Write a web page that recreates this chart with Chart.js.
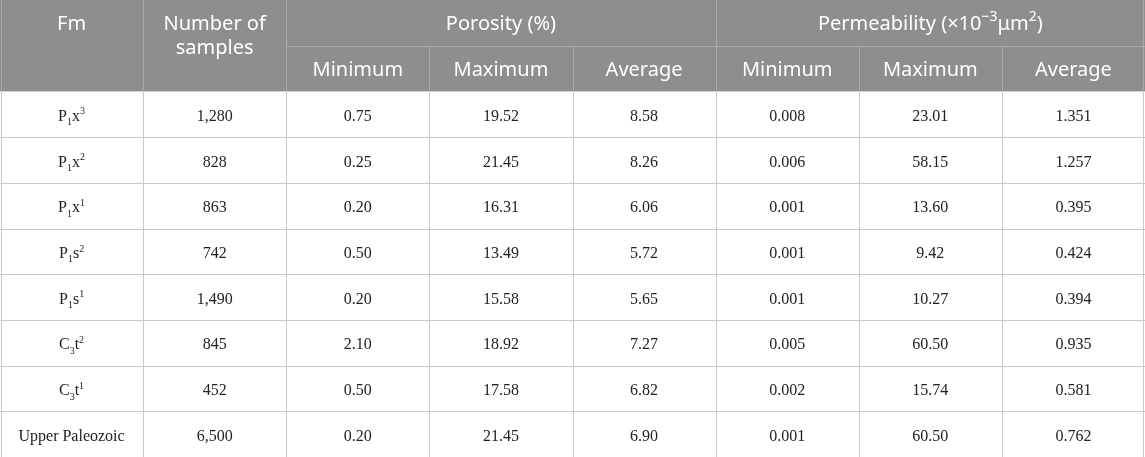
<!DOCTYPE html>
<html>
<head>
<meta charset="utf-8">
<script src="https://cdn.jsdelivr.net/npm/chart.js@4/dist/chart.umd.min.js"></script>
<style>
  html, body { margin: 0; padding: 0; background: #ffffff; }
  #wrap { width: 1145px; height: 457px; position: relative; }
</style>
</head>
<body>
<div id="wrap"><canvas id="c"></canvas></div>
<script>
const formations = ['P_1x^3', 'P_1x^2', 'P_1x^1', 'P_1s^2', 'P_1s^1', 'C_3t^2', 'C_3t^1', 'Upper Paleozoic'];
const sampleCounts = [1280, 828, 863, 742, 1490, 845, 452, 6500];
const porosityMin = [0.75, 0.25, 0.20, 0.50, 0.20, 2.10, 0.50, 0.20];
const porosityMax = [19.52, 21.45, 16.31, 13.49, 15.58, 18.92, 17.58, 21.45];
const porosityAvg = [8.58, 8.26, 6.06, 5.72, 5.65, 7.27, 6.82, 6.90];
const permeabilityMin = [0.008, 0.006, 0.001, 0.001, 0.001, 0.005, 0.002, 0.001];
const permeabilityMax = [23.01, 58.15, 13.60, 9.42, 10.27, 60.50, 15.74, 60.50];
const permeabilityAvg = [1.351, 1.257, 0.395, 0.424, 0.394, 0.935, 0.581, 0.762];

// Header labels
const groupHeaders = ['Fm', 'Number of|samples', 'Porosity (%)', 'Permeability (×10^{−3}μm^{2})'];
const subHeaders = ['Minimum', 'Maximum', 'Average', 'Minimum', 'Maximum', 'Average'];

// ---- Build cell table from the arrays ----
const numericColumns = [
  { values: sampleCounts, fmt: v => v.toLocaleString('en-US') },
  { values: porosityMin, fmt: v => v.toFixed(2) },
  { values: porosityMax, fmt: v => v.toFixed(2) },
  { values: porosityAvg, fmt: v => v.toFixed(2) },
  { values: permeabilityMin, fmt: v => v.toFixed(3) },
  { values: permeabilityMax, fmt: v => v.toFixed(2) },
  { values: permeabilityAvg, fmt: v => v.toFixed(3) }
];
const HEADER_ROWS = 2;
const NCOLS = 1 + numericColumns.length;
const NROWS = HEADER_ROWS + formations.length;

const cellPoints = [];
formations.forEach((f, r) => {
  cellPoints.push({ x: 0, y: r + HEADER_ROWS, text: f });
  numericColumns.forEach((col, c) => {
    cellPoints.push({ x: c + 1, y: r + HEADER_ROWS, text: col.fmt(col.values[r]) });
  });
});

// ---- Rich text helper: _x / _{..} subscript, ^x / ^{..} superscript ----
function parseRich(s) {
  const parts = [];
  let i = 0, buf = '';
  const flush = () => { if (buf) { parts.push({ t: buf, k: 'n' }); buf = ''; } };
  while (i < s.length) {
    const ch = s[i];
    if (ch === '_' || ch === '^') {
      flush();
      const k = ch === '_' ? 'sub' : 'sup';
      let t;
      if (s[i + 1] === '{') {
        const end = s.indexOf('}', i + 2);
        t = s.slice(i + 2, end);
        i = end + 1;
      } else {
        t = s[i + 1];
        i += 2;
      }
      parts.push({ t, k });
    } else { buf += ch; i++; }
  }
  flush();
  return parts;
}

function drawRich(ctx, str, cx, cy, size, family, color, subShift, supShift, smallRatio) {
  const parts = parseRich(str);
  const small = Math.round(size * (smallRatio || 0.7));
  const fontFor = p => (p.k === 'n' ? size : small) + 'px ' + family;
  let total = 0;
  parts.forEach(p => { ctx.font = fontFor(p); p.w = ctx.measureText(p.t).width; total += p.w; });
  let x = cx - total / 2;
  ctx.fillStyle = color;
  ctx.textAlign = 'left';
  ctx.textBaseline = 'alphabetic';
  const base = cy + size * 0.35;
  parts.forEach(p => {
    ctx.font = fontFor(p);
    let y = base;
    if (p.k === 'sub') y += size * subShift;
    if (p.k === 'sup') y -= size * supShift;
    ctx.fillText(p.t, x, y);
    x += p.w;
  });
}

// ---- Table plugin: draws backgrounds, rules and text using the chart scales ----
const tablePlugin = {
  id: 'tablePlugin',
  beforeDatasetsDraw(chart) {
    const { ctx, scales: { x, y } } = chart;
    const X = v => x.getPixelForValue(v);
    const Y = v => y.getPixelForValue(v);
    ctx.save();
    // header background
    ctx.fillStyle = '#8e8e8e';
    ctx.fillRect(X(-0.5), Y(-0.5), X(NCOLS - 0.5) - X(-0.5), Y(HEADER_ROWS - 0.5) - Y(-0.5));

    const line = (x1, y1, x2, y2, color) => {
      ctx.strokeStyle = color;
      ctx.lineWidth = 1;
      ctx.beginPath();
      ctx.moveTo(Math.round(x1) + 0.5, Math.round(y1) + 0.5);
      ctx.lineTo(Math.round(x2) + 0.5, Math.round(y2) + 0.5);
      ctx.stroke();
    };
    const bodyLine = '#c9c9c9';
    const headLine = '#a9a9a9';
    const top = Y(-0.5), hdrBot = Y(HEADER_ROWS - 0.5), bot = Y(NROWS - 0.5);
    const left = X(-0.5), right = X(NCOLS - 0.5);

    // header rules
    line(X(1.5), Y(0.5), right, Y(0.5), headLine);
    [0.5, 1.5, 4.5].forEach(c => line(X(c), top, X(c), hdrBot, headLine));
    [2.5, 3.5, 5.5, 6.5].forEach(c => line(X(c), Y(0.5), X(c), hdrBot, headLine));
    line(left + 1, top, left + 1, hdrBot, headLine);
    line(right - 2, top, right - 2, hdrBot, headLine);

    // body rules
    for (let r = HEADER_ROWS; r < NROWS; r++) {
      line(left, Y(r + 0.5), right, Y(r + 0.5), bodyLine);
    }
    for (let c = 0; c < NCOLS - 1; c++) {
      line(X(c + 0.5), hdrBot, X(c + 0.5), bot, bodyLine);
    }
    line(left + 1, hdrBot, left + 1, bot, bodyLine);
    line(right - 2, hdrBot, right - 2, bot, bodyLine);

    // header text
    const hf = '"Noto Sans", "Open Sans", sans-serif';
    const hs = 20;
    const white = '#ffffff';
    drawRich(ctx, groupHeaders[0], X(0), Y(0), hs, hf, white, 0.25, 0.4);
    const nl = groupHeaders[1].split('|');
    drawRich(ctx, nl[0], X(1), Y(0), hs, hf, white, 0.25, 0.4);
    drawRich(ctx, nl[1], X(1), Y(0) + 24, hs, hf, white, 0.25, 0.4);
    drawRich(ctx, groupHeaders[2], X(3), Y(0), hs, hf, white, 0.25, 0.4);
    drawRich(ctx, groupHeaders[3], X(6), Y(0), hs, hf, white, 0.25, 0.42);
    subHeaders.forEach((s, i) => drawRich(ctx, s, X(i + 2), Y(1), hs, hf, white, 0.25, 0.4));

    // body text from dataset elements
    const meta = chart.getDatasetMeta(0);
    const bf = '"Liberation Serif", "Times New Roman", serif';
    meta.data.forEach((el, i) => {
      const p = chart.data.datasets[0].data[i];
      drawRich(ctx, p.text, el.x, el.y + 1, 16, bf, '#222222', 0.28, 0.4, 0.62);
    });
    ctx.restore();
  }
};

new Chart(document.getElementById('c'), {
  type: 'scatter',
  data: {
    datasets: [{
      data: cellPoints,
      pointRadius: 0,
      pointHoverRadius: 0
    }]
  },
  options: {
    responsive: true,
    maintainAspectRatio: false,
    animation: false,
    events: [],
    layout: { padding: 0 },
    plugins: { legend: { display: false }, tooltip: { enabled: false } },
    scales: {
      x: { type: 'linear', min: -0.5, max: NCOLS - 0.5, display: false },
      y: { type: 'linear', min: -0.5, max: NROWS - 0.5, reverse: true, display: false }
    }
  },
  plugins: [tablePlugin]
});
</script>
</body>
</html>
